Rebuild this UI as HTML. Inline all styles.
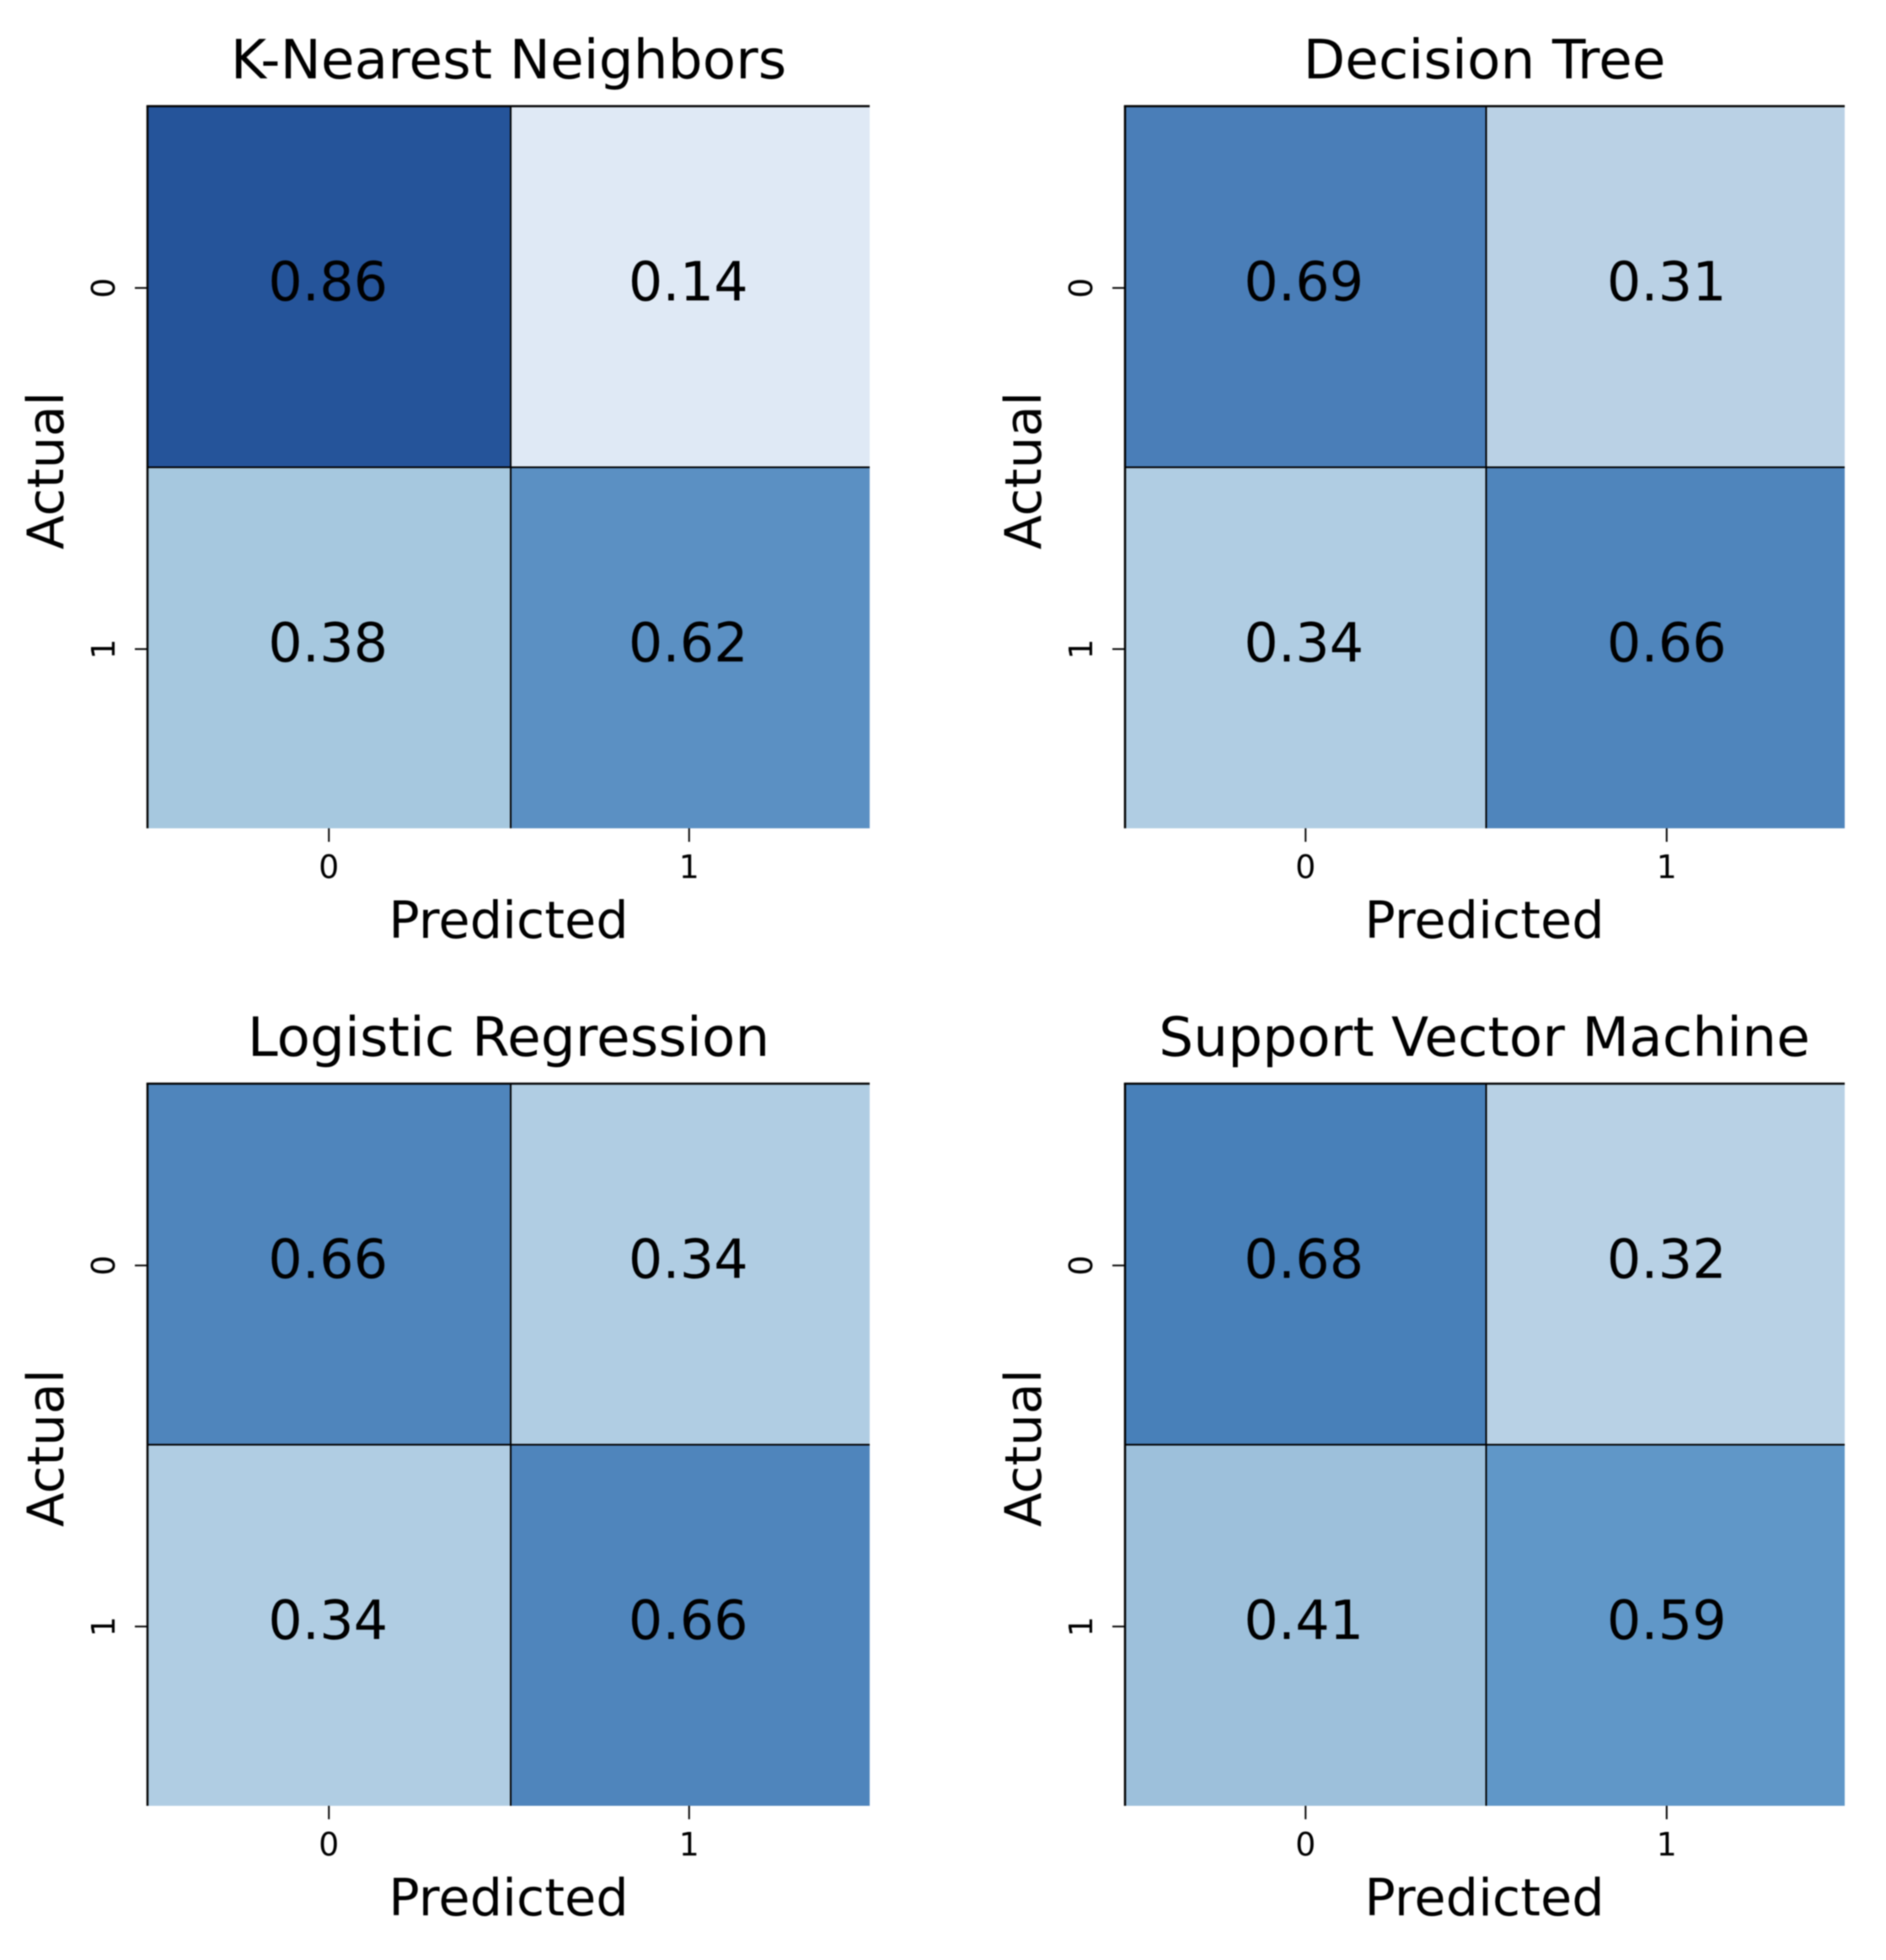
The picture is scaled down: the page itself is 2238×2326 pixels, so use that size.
<!DOCTYPE html>
<html>
<head>
<meta charset="utf-8">
<title>Confusion matrices</title>
<style>
html,body{margin:0;padding:0;background:#fff;}
svg{display:block;filter:blur(0.7px);}
text{font-family:"DejaVu Sans","Liberation Sans",sans-serif;fill:#000;}
</style>
</head>
<body>
<svg id="chart" xmlns="http://www.w3.org/2000/svg" width="2238" height="2326" viewBox="0 0 2238 2326"></svg>
<script>
const panelTitles = ["K-Nearest Neighbors", "Decision Tree", "Logistic Regression", "Support Vector Machine"];
const knnValues = [[0.86, 0.14], [0.38, 0.62]];
const treeValues = [[0.69, 0.31], [0.34, 0.66]];
const logisticValues = [[0.66, 0.34], [0.34, 0.66]];
const svmValues = [[0.68, 0.32], [0.41, 0.59]];
const tickLabels = ["0", "1"];
const xAxisTitle = "Predicted";
const yAxisTitle = "Actual";
const colormapStops = [0, 0.14, 0.31, 0.32, 0.34, 0.38, 0.41, 0.59, 0.62, 0.66, 0.68, 0.69, 0.86, 1];
const colormapColors = ["#f7fbff", "#dfe9f5", "#bad1e5", "#b8d1e5", "#b0cde3", "#a6c8df", "#9dc0db", "#6097c8", "#5b90c3", "#4f85bc", "#4880b9", "#4a7eb8", "#25549a", "#0a3070"];

const allValues = [knnValues, treeValues, logisticValues, svmValues];
const slugs = ["knn", "decision-tree", "logistic-regression", "svm"];
const svg = document.getElementById('chart');
const NS = 'http://www.w3.org/2000/svg';

function panelLeft(col) { return col === 0 ? 175 : 1335; }
function panelRight(col) { return col === 0 ? 1032 : 2189; }
function panelTop(row) { return 126 + row * 1160; }
const PANEL_SIZE = 857;
function dividerNudge(col) { return col === 0 ? 2.5 : 0; }
function xScale(v, col) { return panelLeft(col) + (v + 0.5) / 2 * PANEL_SIZE; }
function yScale(v, row) { return panelTop(row) + (v + 0.5) / 2 * PANEL_SIZE; }

function hexToRgb(h) {
  return [parseInt(h.slice(1, 3), 16), parseInt(h.slice(3, 5), 16), parseInt(h.slice(5, 7), 16)];
}
function colorScale(v) {
  const c = Math.max(0, Math.min(1, v));
  let i = 0;
  while (i < colormapStops.length - 2 && c > colormapStops[i + 1]) i++;
  const t = (c - colormapStops[i]) / (colormapStops[i + 1] - colormapStops[i]);
  const a = hexToRgb(colormapColors[i]);
  const b = hexToRgb(colormapColors[i + 1]);
  return 'rgb(' + a.map(function (x, k) { return Math.round(x + (b[k] - x) * t); }).join(',') + ')';
}
function make(tag, attrs, parent, content) {
  const el = document.createElementNS(NS, tag);
  Object.keys(attrs).forEach(function (k) { el.setAttribute(k, attrs[k]); });
  if (content !== undefined) el.textContent = content;
  parent.appendChild(el);
  return el;
}

allValues.forEach(function (matrix, p) {
  const col = p % 2;
  const row = Math.floor(p / 2);
  const left = panelLeft(col);
  const top = panelTop(row);
  const right = panelRight(col);
  const bottom = top + PANEL_SIZE;
  const divX = (xScale(0, col) + xScale(1, col)) / 2 + dividerNudge(col);
  const divY = (yScale(0, row) + yScale(1, row)) / 2;

  const g = make('g', {}, svg);
  
  

  const title = make('text', { x: (left + right) / 2 + (col === 0 ? 0 : -0.5), y: top - 33, 'font-size': 64.6, 'text-anchor': 'middle' }, g, panelTitles[p]);
  
  

  matrix.forEach(function (rowVals, r) {
    rowVals.forEach(function (val, c) {
      const x0 = c === 0 ? left : divX;
      const x1 = c === 0 ? divX : right;
      const y0 = r === 0 ? top : divY;
      const y1 = r === 0 ? divY : bottom;
      const cell = make('rect', { x: x0, y: y0, width: x1 - x0, height: y1 - y0, fill: colorScale(val) }, g);
      
      
    });
  });

  const vDiv = make('line', { x1: divX, x2: divX, y1: top, y2: bottom, stroke: '#000', 'stroke-width': 2 }, g);
  
  
  const hDiv = make('line', { x1: left, x2: right, y1: divY, y2: divY, stroke: '#000', 'stroke-width': 2 }, g);
  
  
  const topSpine = make('line', { x1: left - 1.25, x2: right, y1: top, y2: top, stroke: '#000', 'stroke-width': 2.5 }, g);
  
  
  const leftSpine = make('line', { x1: left, x2: left, y1: top, y2: bottom, stroke: '#000', 'stroke-width': 2.5 }, g);
  
  

  matrix.forEach(function (rowVals, r) {
    rowVals.forEach(function (val, c) {
      const annotNudge = col === 1 && c === 0 ? -2 : (col === 0 && c === 1 ? -1 : 0);
      const annot = make('text', { x: xScale(c, col) + annotNudge, y: yScale(r, row) + 16, 'font-size': 63.8, 'text-anchor': 'middle' }, g, val.toFixed(2));
      
      
    });
  });

  tickLabels.forEach(function (lab, i) {
    const tx = xScale(i, col) + (col === 0 && i === 0 ? 1 : 0);
    const xt = make('line', { x1: tx, x2: tx, y1: bottom, y2: bottom + 16, stroke: '#000', 'stroke-width': 2 }, g);
    
    
    const xl = make('text', { x: tx, y: bottom + 59, 'font-size': 38, 'text-anchor': 'middle' }, g, lab);
    
    

    const ty = yScale(i, row) + 1.5;
    const yt = make('line', { x1: left - 15, x2: left, y1: ty, y2: ty, stroke: '#000', 'stroke-width': 2 }, g);
    
    
    const lx = left - 39;
    const yl = make('text', { x: lx, y: ty, 'font-size': 38, 'text-anchor': 'middle', transform: 'rotate(-90 ' + lx + ' ' + ty + ')' }, g, lab);
    
    
  });

  const xTitle = make('text', { x: (left + right) / 2 + (col === 0 ? 0 : -0.5), y: bottom + 130, 'font-size': 60.6, 'text-anchor': 'middle' }, g, xAxisTitle);
  
  
  const ax = left - 100;
  const ay = top + 432.5;
  const yTitle = make('text', { x: ax, y: ay, 'font-size': 59.8, 'text-anchor': 'middle', transform: 'rotate(-90 ' + ax + ' ' + ay + ')' }, g, yAxisTitle);
  
  
});
</script>
</body>
</html>
